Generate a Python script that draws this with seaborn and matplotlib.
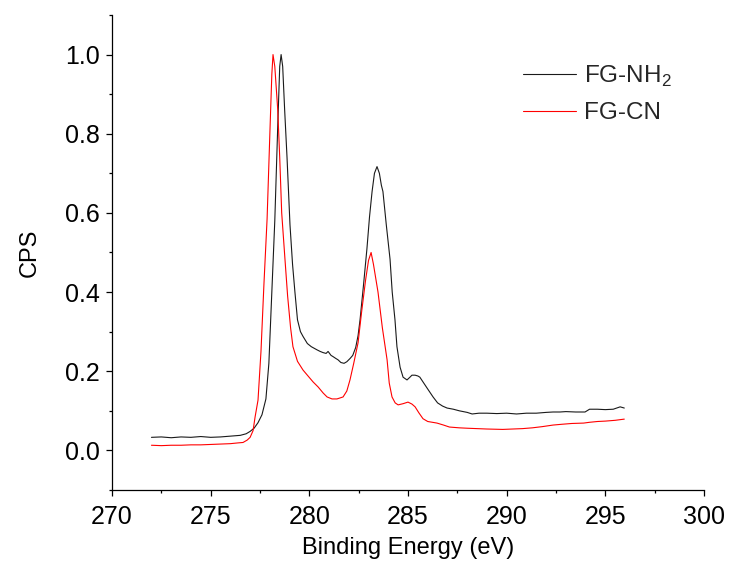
import numpy as np
import pandas as pd
import matplotlib
matplotlib.use("Agg")
import matplotlib.pyplot as plt
import seaborn as sns
from matplotlib.ticker import MultipleLocator

# FG-NH2 series
nh2_x = [272.0, 272.5, 273.0, 273.5, 274.0, 274.5, 275.0, 275.5, 276.0, 276.5, 276.8, 277.0, 277.2, 277.4,
         277.6, 277.8, 277.95, 278.1, 278.25, 278.4, 278.5, 278.57, 278.65, 278.75, 278.87, 279.02, 279.15,
         279.27, 279.4, 279.55, 279.68, 279.9, 280.1, 280.39, 280.55, 280.7, 280.85, 280.95, 281.1, 281.2,
         281.35, 281.45, 281.6, 281.76, 281.9, 282.06, 282.2, 282.35, 282.47, 282.57, 282.75, 282.92, 283.05,
         283.18, 283.3, 283.43, 283.55, 283.65, 283.73, 283.9, 284.09, 284.2, 284.34, 284.44, 284.6, 284.75,
         284.95, 285.1, 285.2, 285.36, 285.5, 285.6, 285.8, 286.0, 286.27, 286.5, 286.75, 286.98, 287.3,
         287.6, 288.0, 288.25, 288.6, 289.0, 289.5, 290.0, 290.5, 291.0, 291.5, 292.0, 292.35, 292.7, 293.0,
         293.5, 293.97, 294.2, 294.6, 295.0, 295.4, 295.75, 295.96]
nh2_y = [0.033, 0.034, 0.032, 0.034, 0.033, 0.035, 0.033, 0.034, 0.036, 0.038, 0.042, 0.048, 0.056, 0.07,
         0.09, 0.13, 0.22, 0.40, 0.58, 0.82, 0.97, 1.0, 0.97, 0.86, 0.74, 0.57, 0.47,
         0.40, 0.33, 0.30, 0.288, 0.27, 0.262, 0.254, 0.25, 0.247, 0.245, 0.25, 0.24, 0.237,
         0.232, 0.229, 0.222, 0.22, 0.224, 0.232, 0.24, 0.26, 0.29, 0.33, 0.42, 0.51, 0.59,
         0.654, 0.70, 0.717, 0.70, 0.67, 0.654, 0.57, 0.483, 0.40, 0.33, 0.262, 0.21, 0.185,
         0.178, 0.185, 0.19, 0.19, 0.188, 0.185, 0.17, 0.155, 0.135, 0.12, 0.112, 0.107, 0.104,
         0.100, 0.096, 0.092, 0.094, 0.094, 0.093, 0.094, 0.092, 0.094, 0.094, 0.096, 0.097, 0.097, 0.098,
         0.097, 0.097, 0.104, 0.104, 0.103, 0.104, 0.11, 0.107]

# FG-CN series
cn_x = [272.0, 272.5, 273.0, 273.5, 274.0, 274.5, 275.0, 275.5, 276.0, 276.4, 276.64, 276.85, 277.0,
        277.15, 277.25, 277.4, 277.55, 277.7, 277.86, 278.0, 278.1, 278.16, 278.25, 278.4, 278.5, 278.6,
        278.77, 278.9, 279.05, 279.17, 279.4, 279.68, 279.9, 280.19, 280.45, 280.7, 280.9, 281.15, 281.4,
        281.71, 281.9, 282.06, 282.25, 282.47, 282.65, 282.85, 283.0, 283.13, 283.25, 283.48, 283.7, 283.94,
        284.05, 284.19, 284.35, 284.5, 284.75, 285.0, 285.2, 285.36, 285.55, 285.76, 286.0, 286.47, 286.8,
        287.1, 287.6, 288.0, 288.5, 289.0, 289.8, 290.3, 290.8, 291.3, 291.8, 292.35, 292.8, 293.3, 293.9,
        294.2, 294.6, 295.0, 295.5, 295.96]
cn_y = [0.013, 0.012, 0.013, 0.013, 0.014, 0.014, 0.015, 0.016, 0.017, 0.019, 0.02, 0.026, 0.033,
        0.05, 0.084, 0.127, 0.25, 0.42, 0.585, 0.80, 0.95, 1.0, 0.97, 0.86, 0.74, 0.60,
        0.48, 0.39, 0.31, 0.262, 0.225, 0.203, 0.19, 0.173, 0.16, 0.145, 0.135, 0.13, 0.13,
        0.135, 0.15, 0.178, 0.22, 0.272, 0.35, 0.43, 0.48, 0.50, 0.47, 0.40, 0.31, 0.229,
        0.17, 0.135, 0.12, 0.115, 0.118, 0.122, 0.117, 0.11, 0.095, 0.08, 0.073, 0.069, 0.064,
        0.059, 0.057, 0.056, 0.055, 0.054, 0.053, 0.054, 0.055, 0.057, 0.060, 0.064, 0.066, 0.068, 0.069,
        0.071, 0.073, 0.074, 0.076, 0.079]

labels = ["FG-NH$_\\mathregular{2}$", "FG-CN"]

sns.set_theme(style="ticks")
plt.rcParams['font.family'] = ['Liberation Sans', 'DejaVu Sans']
plt.rcParams['mathtext.fontset'] = 'custom'
plt.rcParams['mathtext.rm'] = 'Liberation Sans'

fig = plt.figure(figsize=(7.3, 5.72), dpi=100)
ax = fig.add_axes([0.1534, 0.1434, 0.811, 0.8304])

df1 = pd.DataFrame({"x": nh2_x, "y": nh2_y})
df2 = pd.DataFrame({"x": cn_x, "y": cn_y})
sns.lineplot(data=df1, x="x", y="y", ax=ax, color="#1a1a1a", lw=0.8, label=labels[0])
sns.lineplot(data=df2, x="x", y="y", ax=ax, color="red", lw=0.8, label=labels[1])

ax.set_xlim(270, 300)
ax.set_ylim(-0.1, 1.1)
ax.xaxis.set_major_locator(MultipleLocator(5))
ax.xaxis.set_minor_locator(MultipleLocator(2.5))
ax.yaxis.set_minor_locator(MultipleLocator(0.1))
ax.set_yticks([0.0, 0.2, 0.4, 0.6, 0.8, 1.0])
ax.set_yticklabels(["0.0", "0.2", "0.4", "0.6", "0.8", "1.0"])
ax.tick_params(which="major", direction="out", length=4.5, width=0.9, labelsize=18, color="black",
               labelcolor="black")
ax.tick_params(axis="x", which="major", pad=6)
ax.tick_params(axis="y", which="major", pad=4)
ax.tick_params(which="minor", direction="out", length=2.5, width=0.9, color="black")
for s in ["top", "right"]:
    ax.spines[s].set_visible(False)
for s in ["left", "bottom"]:
    ax.spines[s].set_color("black")
    ax.spines[s].set_linewidth(0.9)

ax.set_xlabel("Binding Energy (eV)", fontsize=17, color="black", labelpad=6)
ax.set_ylabel("CPS", fontsize=17, color="black", labelpad=18)

leg = ax.legend(loc="upper left", bbox_to_anchor=(0.694, 0.898), frameon=False, fontsize=17.5,
                handlelength=2.2, handletextpad=0.3, labelspacing=0.55, borderpad=0, borderaxespad=0)

fig.savefig("out.png", dpi=100)
